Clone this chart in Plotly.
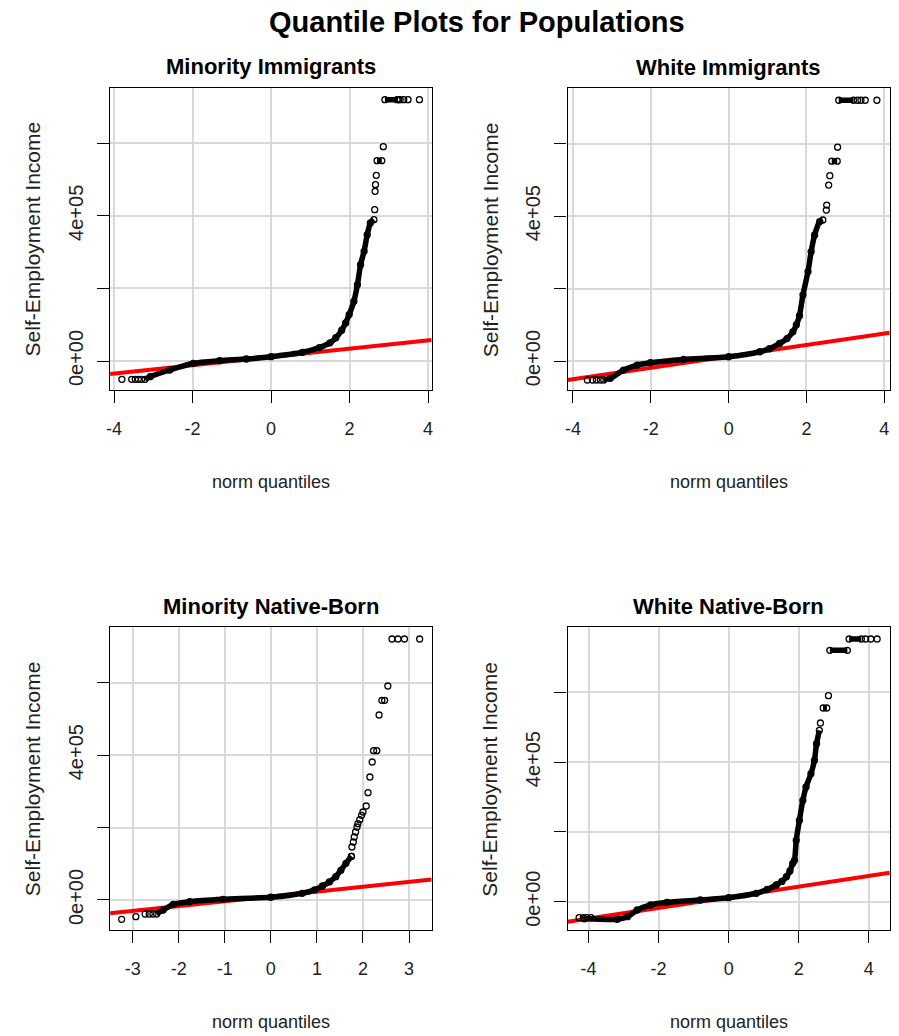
import plotly.graph_objects as go

W, H = 899, 1036

panel_titles = ["Minority Immigrants", "White Immigrants", "Minority Native-Born", "White Native-Born"]
main_title = "Quantile Plots for Populations"
x_title = "norm quantiles"
y_title = "Self-Employment Income"

# ---- Minority Immigrants ----
p1_band_x = [-3.21, -3.08, -2.58, -1.98, -1.31, -0.63, 0.0, 0.80, 1.23, 1.50, 1.65, 1.80, 1.90, 1.99, 2.11, 2.20, 2.28, 2.37, 2.45, 2.53, 2.62,
             None, 2.70, 2.82, None, 2.90, 3.21]
p1_band_y = [-50400, -43200, -24800, -6300, 800, 5500, 11900, 24000, 37000, 50000, 64000, 85000, 105000, 128000, 164500, 210200, 265300, 302200, 348000, 380200, 389300,
             None, 551800, 551800, None, 719900, 719900]
p1_pts_x = [-3.80, -3.55, -3.46, -3.38, -3.30, 2.64, 2.65, 2.66, 2.68, 2.86, 3.25, 3.29, 3.38, 3.49, 3.78]
p1_pts_y = [-50400, -50400, -50400, -50400, -50400, 416800, 467500, 485700, 511600, 590400, 719900, 719900, 719900, 719900, 719900]
p1_fit = (11000, 11430)   # intercept, slope

# ---- White Immigrants ----
p2_band_x = [-3.21, -3.04, -2.70, -2.35, -2.01, -1.16, 0.0, 0.80, 1.05, 1.31, 1.50, 1.65, 1.74, 1.82, 1.91, 2.04, 2.12, 2.21, 2.34, 2.42,
             None, 2.65, 2.79, None, 2.83, 3.21]
p2_band_y = [-52300, -47700, -24800, -11000, -4600, 4600, 11900, 25700, 34000, 48800, 62000, 80700, 100000, 125000, 182700, 247100, 302200, 348000, 384900, 389300,
             None, 551800, 551800, None, 719900, 719900]
p2_pts_x = [-3.63, -3.50, -3.40, -3.30, 2.51, 2.52, 2.57, 2.60, 2.80, 3.31, 3.40, 3.51, 3.81]
p2_pts_y = [-52300, -52300, -52300, -52300, 416800, 430600, 485700, 511600, 590400, 719900, 719900, 719900, 719900]
p2_fit = (12940, 15720)

# ---- Minority Native-Born ----
p3_band_x = [-2.48, -2.34, -2.12, -1.76, -1.04, 0.0, 0.68, 0.95, 1.12, 1.27, 1.41, 1.52, 1.63, 1.75]
p3_band_y = [-38700, -27600, -11900, -4700, 1900, 7500, 18500, 28000, 38700, 50000, 64400, 82000, 101400, 120700]
p3_pts_x = [-3.24, -2.93, -2.73, -2.64, -2.56, 1.75, 1.76, 1.79, 1.81, 1.84, 1.87, 1.89, 1.93, 1.97, 2.00,
            2.07, 2.11, 2.15, 2.20, 2.23, 2.30, 2.35, 2.41, 2.47, 2.54, 2.63, 2.76, 2.90, 3.23]
p3_pts_y = [-53300, -46100, -38700, -38700, -38700, 120700, 146400, 160200, 174000, 187800, 201600, 210800, 221800, 233900, 243000,
            259600, 296400, 339700, 381200, 412400, 412400, 511000, 551600, 551600, 591000, 720900, 720900, 720900, 720900]
p3_fit = (10000, 13440)

# ---- White Native-Born ----
p4_band_x = [-4.12, -3.18, -2.89, -2.61, -2.23, -1.76, -0.81, 0.0, 0.79, 1.10, 1.36, 1.52, 1.65, 1.75, 1.83, 1.88, 1.93, 2.02, 2.12, 2.21, 2.35, 2.45, 2.51, 2.59,
             None, 2.70, 2.80, None, 2.89, 3.39, None, 3.44, 3.79]
p4_band_y = [-49000, -50400, -43000, -23800, -9500, -1700, 4900, 11500, 24100, 35000, 47800, 58000, 71600, 88000, 110000, 118600, 175900, 233200, 290500, 328600, 366700, 405100, 452700, 491100,
             None, 555000, 555000, None, 720200, 720200, None, 752700, 752700]
p4_pts_x = [-4.27, -4.15, -4.05, -3.93, 2.62, 2.85, 3.91, 4.06, 4.24]
p4_pts_y = [-45800, -45800, -45800, -45800, 512000, 590200, 752700, 752700, 752700]
p4_fit = (12680, 15280)

x_ticks = [[-4, -2, 0, 2, 4], [-4, -2, 0, 2, 4], [-3, -2, -1, 0, 1, 2, 3], [-4, -2, 0, 2, 4]]
y_ticks = [0, 200000, 400000, 600000]
y_ticktext = ["0e+00", "", "4e+05", ""]

x_ranges = [[-4.10, 4.09], [-4.14, 4.14], [-3.49, 3.49], [-4.60, 4.60]]
y_ranges = [[-79900, 752900], [-79900, 752900], [-82900, 753200], [-81100, 786200]]

# pixel boxes (left, top, right, bottom)
boxes = [(106.7, 87.7, 430, 390), (566.7, 88.3, 890.7, 390),
         (106.7, 627.3, 430, 930), (566.7, 627.3, 890.7, 930)]

bands = [(p1_band_x, p1_band_y), (p2_band_x, p2_band_y), (p3_band_x, p3_band_y), (p4_band_x, p4_band_y)]
pts = [(p1_pts_x, p1_pts_y), (p2_pts_x, p2_pts_y), (p3_pts_x, p3_pts_y), (p4_pts_x, p4_pts_y)]
fits = [p1_fit, p2_fit, p3_fit, p4_fit]

FONT = "Liberation Sans, Arial, sans-serif"

fig = go.Figure()
annotations = []
layout = dict(width=W, height=H, margin=dict(l=0, r=0, t=0, b=0),
              paper_bgcolor="white", plot_bgcolor="white", showlegend=False)

for i in range(4):
    sfx = "" if i == 0 else str(i + 1)
    xa, ya = "x" + sfx, "y" + sfx
    l, t, r, b = boxes[i]
    bx, by = bands[i]
    px_, py_ = pts[i]
    a, s = fits[i]
    x0, x1 = x_ranges[i]
    fig.add_trace(go.Scatter(x=[x0, x1], y=[a + s * x0, a + s * x1], mode="lines",
                             line=dict(color="#ff0000", width=4), xaxis=xa, yaxis=ya, hoverinfo="skip"))
    fig.add_trace(go.Scatter(x=bx, y=by, mode="lines+markers", connectgaps=False,
                             line=dict(color="black", width=5.5, shape="spline", smoothing=0.6),
                             marker=dict(symbol="circle-open", size=6, color="black", line=dict(width=1.3)),
                             xaxis=xa, yaxis=ya))
    fig.add_trace(go.Scatter(x=px_, y=py_, mode="markers",
                             marker=dict(symbol="circle-open", size=6, color="black", line=dict(width=1.3)),
                             xaxis=xa, yaxis=ya))
    common = dict(showline=True, mirror=True, linecolor="black", linewidth=1.3,
                  ticks="outside", ticklen=12, tickwidth=1.3, tickcolor="black",
                  showgrid=True, gridcolor="#d9d9d9", gridwidth=1.5, zeroline=False)
    layout["xaxis" + sfx] = dict(domain=[l / W, r / W], range=x_ranges[i], anchor=ya,
                                 tickvals=x_ticks[i], ticktext=[str(v) for v in x_ticks[i]],
                                 tickfont=dict(family=FONT, size=18, color="#222"),
                                 ticklabelstandoff=10, **common)
    layout["yaxis" + sfx] = dict(domain=[1 - b / H, 1 - t / H], range=y_ranges[i], anchor=xa,
                                 tickvals=y_ticks, ticktext=y_ticktext, tickangle=-90,
                                 tickfont=dict(family=FONT, size=20, color="#222"),
                                 ticklabelstandoff=6, **common)
    cx = (l + r) / 2
    cy = (t + b) / 2
    annotations.append(dict(text=panel_titles[i], x=cx / W, y=1 - (t - 21) / H, xref="paper", yref="paper",
                            showarrow=False, xanchor="center", yanchor="middle",
                            font=dict(family=FONT, size=22, color="black", weight="bold")))
    annotations.append(dict(text=x_title, x=cx / W, y=1 - (b + 92) / H, xref="paper", yref="paper",
                            showarrow=False, xanchor="center", yanchor="middle",
                            font=dict(family=FONT, size=18, color="#222")))
    annotations.append(dict(text=y_title, x=(l - 78) / W, y=1 - cy / H, xref="paper", yref="paper",
                            showarrow=False, xanchor="center", yanchor="middle", textangle=-90,
                            font=dict(family=FONT, size=21, color="#222")))

annotations.append(dict(text=main_title, x=476 / W, y=1 - 22 / H, xref="paper", yref="paper",
                        showarrow=False, xanchor="center", yanchor="middle",
                        font=dict(family=FONT, size=29, color="black", weight="bold")))
layout["annotations"] = annotations
fig.update_layout(**layout)
fig.write_html("out.html")
